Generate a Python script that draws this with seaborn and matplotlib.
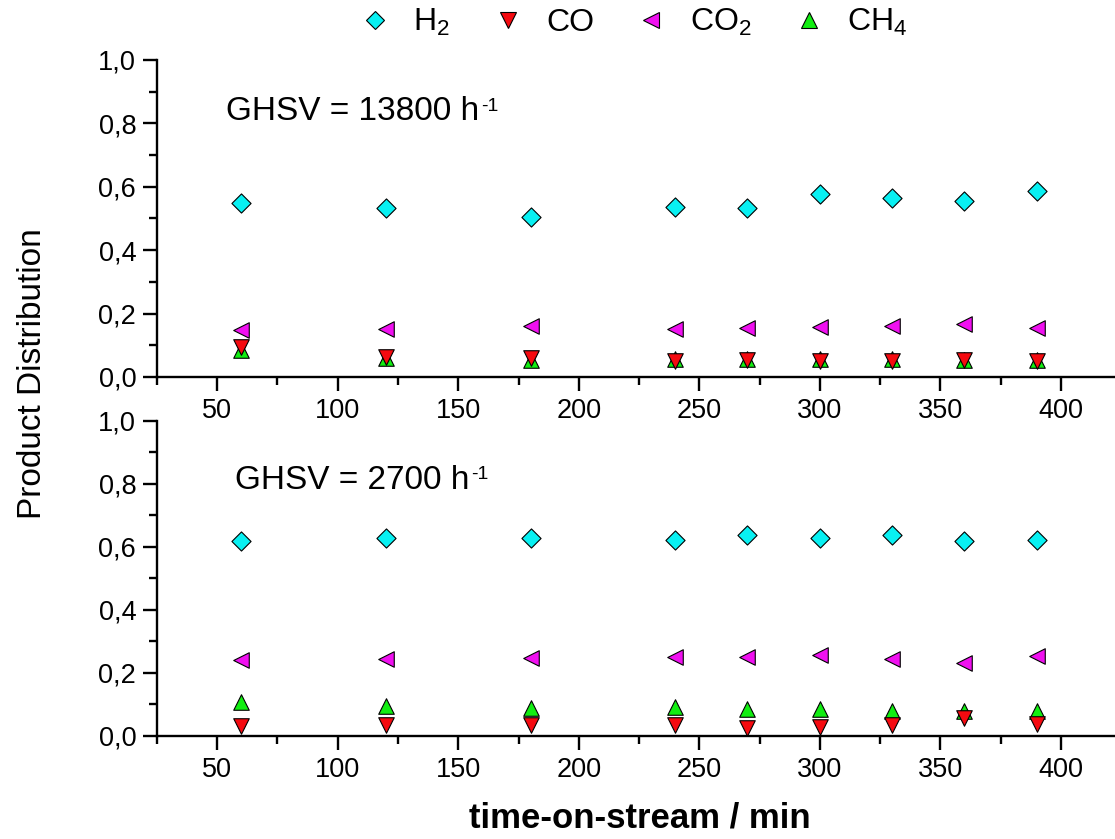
import matplotlib
matplotlib.use("Agg")
import matplotlib.pyplot as plt
from matplotlib.lines import Line2D
from matplotlib.ticker import FuncFormatter, MultipleLocator
import seaborn as sns
import pandas as pd

# time on stream (min)
time_min = [60, 120, 180, 240, 270, 300, 330, 360, 390]

# GHSV = 13800 h-1
h2_high = [0.548, 0.532, 0.505, 0.537, 0.534, 0.577, 0.565, 0.555, 0.588]
co_high = [0.095, 0.063, 0.060, 0.051, 0.052, 0.051, 0.051, 0.053, 0.051]
co2_high = [0.148, 0.150, 0.161, 0.150, 0.154, 0.157, 0.161, 0.167, 0.156]
ch4_high = [0.085, 0.060, 0.055, 0.056, 0.056, 0.056, 0.056, 0.055, 0.054]

# GHSV = 2700 h-1
h2_low = [0.619, 0.628, 0.628, 0.621, 0.637, 0.628, 0.637, 0.619, 0.621]
co_low = [0.030, 0.034, 0.035, 0.033, 0.023, 0.028, 0.033, 0.056, 0.038]
co2_low = [0.240, 0.243, 0.248, 0.251, 0.249, 0.256, 0.243, 0.232, 0.253]
ch4_low = [0.106, 0.094, 0.089, 0.090, 0.086, 0.086, 0.079, 0.080, 0.080]

species = ["H$_2$", "CO", "CO$_2$", "CH$_4$"]
panel_titles = ["GHSV = 13800 h", "GHSV = 2700 h"]
unit_exponent = "-1"

colors = {"H2": "#08f0f2", "CO": "#f50a10", "CO2": "#f010f0", "CH4": "#12ee12"}
markers = {"H2": "D", "CO": "v", "CO2": "<", "CH4": "^"}
sizes = {"H2": 95, "CO": 125, "CO2": 125, "CH4": 125}

sns.set_theme(style="ticks")
plt.rcParams["font.family"] = ["Liberation Sans", "DejaVu Sans"]
plt.rcParams["mathtext.fontset"] = "custom"
plt.rcParams["mathtext.rm"] = "Liberation Sans"
plt.rcParams["mathtext.it"] = "Liberation Sans:italic"
plt.rcParams["mathtext.bf"] = "Liberation Sans:bold"
plt.rcParams["text.color"] = "black"
plt.rcParams["axes.labelcolor"] = "black"
plt.rcParams["xtick.color"] = "black"
plt.rcParams["ytick.color"] = "black"

fig = plt.figure(figsize=(11.15, 8.39), dpi=100)
ax_top = fig.add_axes([0.1408, 0.5507, 0.8646, 0.3778])
ax_bot = fig.add_axes([0.1408, 0.1231, 0.8646, 0.3754])

panels = [
    (ax_top, {"H2": h2_high, "CO": co_high, "CO2": co2_high, "CH4": ch4_high}, (0.072, 0.837)),
    (ax_bot, {"H2": h2_low, "CO": co_low, "CO2": co2_low, "CH4": ch4_low}, (0.081, 0.81)),
]

comma = FuncFormatter(lambda v, p: f"{v:.1f}".replace(".", ","))

# drawing order: CO ends up on top of CH4
draw_order = ["H2", "CO2", "CH4", "CO"]

for (ax, series, txt_pos), title in zip(panels, panel_titles):
    for key in draw_order:
        df = pd.DataFrame({"t": time_min, "v": series[key]})
        sns.scatterplot(data=df, x="t", y="v", ax=ax, marker=markers[key],
                        color=colors[key], edgecolor="black", linewidth=0.8,
                        s=sizes[key], legend=False, zorder=3, clip_on=False)
    ax.set_xlim(25, 425)
    ax.set_ylim(0, 1.0)
    ax.xaxis.set_major_locator(MultipleLocator(50))
    ax.xaxis.set_minor_locator(MultipleLocator(25))
    ax.yaxis.set_major_locator(MultipleLocator(0.2))
    ax.yaxis.set_minor_locator(MultipleLocator(0.1))
    ax.yaxis.set_major_formatter(comma)
    ax.set_xlabel("")
    ax.set_ylabel("")
    for side in ("top", "right"):
        ax.spines[side].set_visible(False)
    for side in ("left", "bottom"):
        ax.spines[side].set_linewidth(1.7)
        ax.spines[side].set_color("black")
    ax.tick_params(which="major", length=10, width=1.7, labelsize=19.5, pad=5,
                   colors="black", direction="out")
    ax.tick_params(which="minor", length=6, width=1.7, colors="black", direction="out")
    t = ax.text(txt_pos[0], txt_pos[1], title, transform=ax.transAxes,
                fontsize=24, ha="left", va="center")
    ax.annotate(unit_exponent, xy=(1, 1), xycoords=t, xytext=(1, -1),
                textcoords="offset points", fontsize=14, ha="left", va="top")

fig.text(0.574, 0.025, "time-on-stream / min", fontsize=25, fontweight="bold",
         ha="center", va="center")
fig.text(0.029, 0.555, "Product Distribution", fontsize=24, rotation=90,
         ha="center", va="center")

handles = [Line2D([], [], linestyle="none", marker=markers[k], markersize=ms,
                  markerfacecolor=colors[k], markeredgecolor="black",
                  markeredgewidth=0.8)
           for k, ms in zip(["H2", "CO", "CO2", "CH4"], [9, 11, 11, 11])]
fig.legend(handles, species, loc="center", bbox_to_anchor=(0.568, 0.973), ncol=4,
           frameon=False, fontsize=23, handletextpad=0.7, columnspacing=1.3,
           handlelength=1.0)

fig.savefig("out.png", dpi=100)
